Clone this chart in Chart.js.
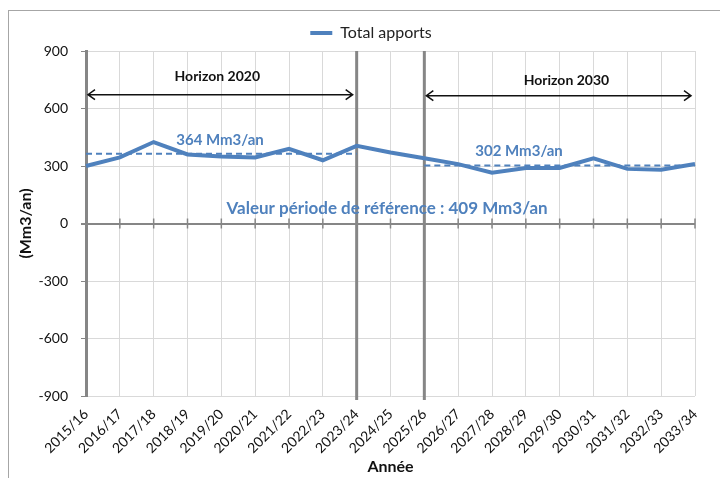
<!DOCTYPE html>
<html>
<head>
<meta charset="utf-8">
<script src="https://cdn.jsdelivr.net/npm/chart.js@4.4.1/dist/chart.umd.min.js"></script>
<style>
html, body { margin: 0; padding: 0; background: #fff; overflow: hidden; }
#frame { position: absolute; left: 8px; top: 10px; width: 760px; height: 520px; border-left: 1px solid #a6a6a6; border-top: 1px solid #a6a6a6; }
#wrap { position: absolute; left: 9px; top: 11px; width: 728px; height: 467px; }
</style>
</head>
<body>
<div id="frame"></div>
<div id="wrap"><canvas id="apportsChart"></canvas></div>
<script>
const years = ['2015/16','2016/17','2017/18','2018/19','2019/20','2020/21','2021/22','2022/23','2023/24','2024/25',
               '2025/26','2026/27','2027/28','2028/29','2029/30','2030/31','2031/32','2032/33','2033/34'];
const totalApports = [300, 345, 425, 360, 350, 345, 390, 330, 405, 370, 340, 310, 265, 290, 290, 340, 285, 280, 310];
const moyenne2020 = [364, 364, 364, 364, 364, 364, 364, 364, 364, null, null, null, null, null, null, null, null, null, null];
const moyenne2030 = [null, null, null, null, null, null, null, null, null, null, 302, 302, 302, 302, 302, 302, 302, 302, 302];
const yTicks = [-900, -600, -300, 0, 300, 600, 900];

const BLUE = '#4f81bd';
const AXIS = '#868686';
const FONT = 'Lato';

function arrow(ctx, x1, x2, yy) {
    ctx.beginPath();
    ctx.moveTo(x1, yy); ctx.lineTo(x2, yy);
    ctx.moveTo(x1 + 7, yy - 5); ctx.lineTo(x1, yy); ctx.lineTo(x1 + 7, yy + 5);
    ctx.moveTo(x2 - 7, yy - 5); ctx.lineTo(x2, yy); ctx.lineTo(x2 - 7, yy + 5);
    ctx.stroke();
}

const decorations = {
    id: 'decorations',
    afterLayout(chart) {
        // legend sits a bit right of the canvas centre
        chart.legend.left += 38;
    },
    beforeDatasetsDraw(chart) {
        const { ctx, chartArea, scales: { x, y } } = chart;
        ctx.save();
        // tick marks on the zero axis
        const y0 = y.getPixelForValue(0);
        ctx.strokeStyle = AXIS;
        ctx.lineWidth = 1.5;
        years.forEach((_, i) => {
            const px = x.getPixelForValue(i);
            ctx.beginPath();
            ctx.moveTo(px, y0 - 5); ctx.lineTo(px, y0 + 5);
            ctx.stroke();
        });
        // separators of the two horizons
        ctx.lineWidth = 3;
        [8, 10].forEach(i => {
            const px = x.getPixelForValue(i);
            ctx.beginPath();
            ctx.moveTo(px, chartArea.top);
            ctx.lineTo(px, chartArea.bottom + 4);
            ctx.stroke();
        });
        ctx.restore();
    },
    afterDatasetsDraw(chart) {
        const { ctx, scales: { x, y } } = chart;
        ctx.save();
        ctx.textAlign = 'center';
        ctx.textBaseline = 'middle';

        ctx.strokeStyle = '#111';
        ctx.lineWidth = 1.5;
        arrow(ctx, x.getPixelForValue(0) + 2, x.getPixelForValue(8) - 4, y.getPixelForValue(672));
        arrow(ctx, x.getPixelForValue(10) + 2, x.getPixelForValue(18) - 4, y.getPixelForValue(667));

        ctx.fillStyle = '#111';
        ctx.font = 'bold 14px ' + FONT;
        ctx.fillText('Horizon 2020', x.getPixelForValue(3.88), y.getPixelForValue(765));
        ctx.fillText('Horizon 2030', x.getPixelForValue(14.2), y.getPixelForValue(745));

        ctx.fillStyle = BLUE;
        ctx.font = 'bold 15px ' + FONT;
        ctx.fillText('364 Mm3/an', x.getPixelForValue(3.96), y.getPixelForValue(434));
        ctx.fillText('302 Mm3/an', x.getPixelForValue(12.8), y.getPixelForValue(378));
        ctx.font = 'bold 17px ' + FONT;
        ctx.fillText('Valeur période de référence : 409 Mm3/an', x.getPixelForValue(8.9), y.getPixelForValue(78));
        ctx.restore();
    }
};

const ctx = document.getElementById('apportsChart').getContext('2d');
const apportsChart = new Chart(ctx, {
    type: 'line',
    data: {
        labels: years,
        datasets: [
            { label: 'Total apports', data: totalApports, borderColor: BLUE, backgroundColor: BLUE,
              borderWidth: 4, pointRadius: 0, pointStyle: 'line', tension: 0, order: 0 },
            { label: 'Moyenne 2020', data: moyenne2020, borderColor: BLUE, borderWidth: 2,
              borderDash: [6, 4], pointRadius: 0, spanGaps: false, order: 1 },
            { label: 'Moyenne 2030', data: moyenne2030, borderColor: BLUE, borderWidth: 2,
              borderDash: [6, 4], pointRadius: 0, spanGaps: false, order: 1 }
        ]
    },
    options: {
        responsive: true,
        maintainAspectRatio: false,
        animation: false,
        layout: { padding: { left: 0, right: 42, top: 4, bottom: 0 } },
        plugins: {
            legend: {
                display: true,
                labels: {
                    filter: item => item.datasetIndex === 0,
                    usePointStyle: true,
                    pointStyleWidth: 22,
                    boxHeight: 8,
                    color: '#222',
                    font: { family: FONT, size: 16 },
                    padding: 10
                }
            },
            tooltip: { enabled: false }
        },
        scales: {
            x: {
                afterFit: scale => { scale.height = 82; },
                grid: { color: '#d9d9d9', drawTicks: false },
                border: { display: false },
                ticks: { minRotation: 45, maxRotation: 45, autoSkip: false, padding: 10,
                         color: '#111', font: { family: FONT, size: 14 } },
                title: { display: true, text: 'Année', color: '#111',
                         font: { family: FONT, size: 16, weight: 'bold' }, padding: { top: 0, bottom: 2 } }
            },
            y: {
                min: -900, max: 900,
                afterFit: scale => { scale.width = 77; },
                afterBuildTicks: scale => { scale.ticks = yTicks.map(v => ({ value: v })); },
                grid: {
                    color: c => (c.tick && c.tick.value === 0) ? AXIS : '#d9d9d9',
                    lineWidth: c => (c.tick && c.tick.value === 0) ? 2 : 1,
                    tickColor: AXIS, tickLength: 5
                },
                border: { color: AXIS, width: 3 },
                ticks: { padding: 13, color: '#111', font: { family: FONT, size: 14 } },
                title: { display: true, text: '(Mm3/an)', color: '#111',
                         font: { family: FONT, size: 16, weight: 'bold' }, padding: { top: 7, bottom: 4 } }
            }
        }
    },
    plugins: [decorations]
});
</script>
</body>
</html>
